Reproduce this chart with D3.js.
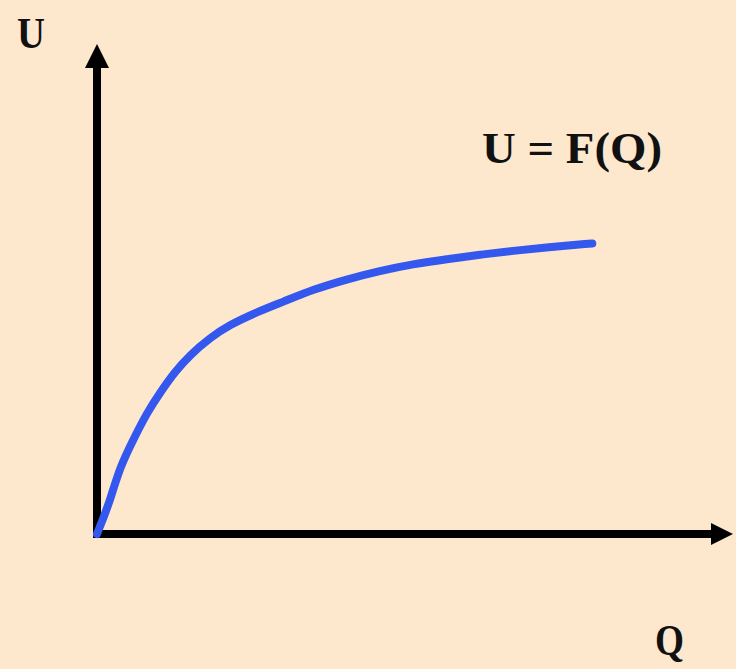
<!DOCTYPE html>
<html>
<head>
<meta charset="utf-8">
<script src="https://cdn.jsdelivr.net/npm/d3@7"></script>
<style>
  html, body { margin: 0; padding: 0; background: #fde7cd; }
  svg { display: block; }
  .lbl { font-family: "Liberation Serif", "DejaVu Serif", serif; font-weight: bold; fill: #111; }
</style>
</head>
<body>
<svg id="chart" width="736" height="669"></svg>
<script>
// utility curve U = F(Q) (arbitrary units 0-100)
const qValues = [0, 1.0, 2.1, 3.7, 5.8, 8.0, 10.1, 12.5, 14.9, 18.1, 21.3, 25.7, 29.9, 34.7, 40.1, 45.4, 50.7, 56.2, 61.5, 66.8, 72.2, 79.5];
const uValues = [0, 3.2, 6.9, 13.7, 19.2, 24.7, 28.8, 33.1, 36.5, 40.0, 42.7, 45.3, 47.4, 49.9, 52.0, 53.7, 55.1, 56.1, 57.0, 57.8, 58.5, 59.3];
const axisLabels = ["U", "Q"];
const curveLabel = "U = F(Q)";

const svg = d3.select('svg#chart');

const xScale = d3.scaleLinear()
  .domain([0, 100])
  .range([97, 720]);

const yScale = d3.scaleLinear()
  .domain([0, 100])
  .range([534, 44]);

const x0 = xScale(0), y0 = yScale(0);

// axes
const axes = svg.append('g');
const yTop = yScale(100);
const xEnd = xScale(100);
axes.append('line')
  .attr('x1', x0).attr('y1', y0 + 4)
  .attr('x2', x0).attr('y2', yTop + 20)
  .attr('stroke', '#000').attr('stroke-width', 8);
axes.append('line')
  .attr('x1', x0 - 4).attr('y1', y0)
  .attr('x2', xEnd - 6).attr('y2', y0)
  .attr('stroke', '#000').attr('stroke-width', 8);

// arrow heads
axes.append('path')
  .attr('d', `M${x0},${yTop} L${x0 + 12},${yTop + 24} L${x0 - 12},${yTop + 24} Z`)
  .attr('fill', '#000');
axes.append('path')
  .attr('d', `M${xEnd + 13},${y0} L${xEnd - 9},${y0 - 11} L${xEnd - 9},${y0 + 11} Z`)
  .attr('fill', '#000');

// curve
const points = qValues.map((q, i) => [q, uValues[i]]);
const line = d3.line()
  .x(d => xScale(d[0]))
  .y(d => yScale(d[1]))
  .curve(d3.curveBasis);

svg.append('path')
  .datum(points)
  .attr('d', line)
  .attr('fill', 'none')
  .attr('stroke', '#3458ee')
  .attr('stroke-width', 8)
  .attr('stroke-linecap', 'round');

// labels
svg.append('text')
  .attr('class', 'lbl')
  .attr('x', 17).attr('y', 48)
  .attr('font-size', 44)
  .attr('textLength', 28)
  .attr('lengthAdjust', 'spacingAndGlyphs')
  .text(axisLabels[0]);

svg.append('text')
  .attr('class', 'lbl')
  .attr('x', 655).attr('y', 655)
  .attr('font-size', 44)
  .attr('textLength', 29)
  .attr('lengthAdjust', 'spacingAndGlyphs')
  .text(axisLabels[1]);

svg.append('text')
  .attr('class', 'lbl')
  .attr('x', 482).attr('y', 163)
  .attr('font-size', 44)
  .attr('textLength', 180)
  .attr('lengthAdjust', 'spacingAndGlyphs')
  .text(curveLabel);
</script>
</body>
</html>
